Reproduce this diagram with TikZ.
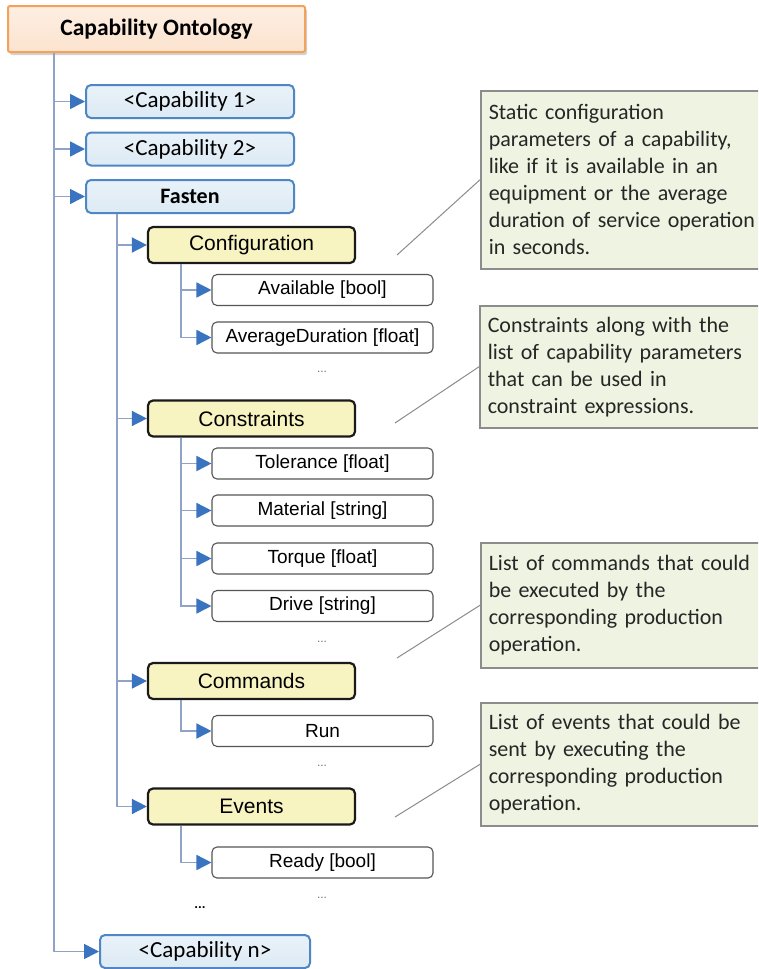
\documentclass[tikz,border=0pt]{standalone}
\usepackage{fontspec}
\setmainfont{Carlito}
\newfontfamily\arialfont{Liberation Sans}
\usetikzlibrary{arrows.meta,shadows}
\definecolor{rootfill}{HTML}{FCE3CE}
\definecolor{rootfilltop}{HTML}{FDEFE3}
\definecolor{rootline}{HTML}{F2A25A}
\definecolor{capfill}{HTML}{DDEAF4}
\definecolor{capfilltop}{HTML}{E9F2F9}
\definecolor{capline}{HTML}{4F86C6}
\definecolor{grpfill}{HTML}{F8F4C2}
\definecolor{grpline}{HTML}{1A1A1A}
\definecolor{itemline}{HTML}{555555}
\definecolor{notefill}{HTML}{EEF3E2}
\definecolor{noteline}{HTML}{8C8C8C}
\definecolor{connline}{HTML}{8EA3C6}
\definecolor{tipblue}{HTML}{3A74C0}
\begin{document}
\begin{tikzpicture}[x=1pt,y=-1pt,
  rootbox/.style={draw=rootline, line width=2pt, top color=rootfilltop, bottom color=rootfill,
    rounded corners=2pt, minimum width=297pt, minimum height=46pt, inner sep=0pt,
    font=\fontsize{23.5}{27}\selectfont\bfseries,
    drop shadow={shadow xshift=2pt, shadow yshift=-3pt, opacity=0.35}},
  capbox/.style={draw=capline, line width=2pt, top color=capfilltop, bottom color=capfill,
    rounded corners=5pt, minimum width=208pt, minimum height=33pt, inner sep=0pt,
    font=\fontsize{23}{26}\selectfont},
  grpbox/.style={draw=grpline, line width=2.2pt, fill=grpfill, rounded corners=5pt,
    minimum width=207pt, minimum height=36pt, inner sep=0pt,
    font=\arialfont\fontsize{21}{25}\selectfont},
  itembox/.style={draw=itemline, line width=1.1pt, fill=white, rounded corners=5pt,
    minimum width=221pt, minimum height=31pt, inner sep=0pt,
    font=\arialfont\fontsize{19}{23}\selectfont},
  notebox/.style={draw=noteline, line width=1.5pt, fill=notefill, anchor=north west,
    minimum width=290pt, text width=274pt, align=left, inner xsep=8pt, inner ysep=0pt,
    font=\fontsize{22}{27}\selectfont, text=black!85},
  conn/.style={draw=connline, line width=1.6pt,
    -{Triangle[length=15pt,width=15pt,color=tipblue]}},
  noteline/.style={draw=noteline, line width=1pt},
  moredots/.style={font=\arialfont\fontsize{12}{14}\selectfont, text=black!55, inner sep=0pt}
]
\clip (0,0) rectangle (758,969);
\fill[white] (0,0) rectangle (758,969);

% ontology root and capabilities
\node[rootbox] (root) at (156.5,29) {Capability Ontology};
\node[capbox] (cap1) at (190,101.5) {<Capability 1>};
\node[capbox] (cap2) at (190,149) {<Capability 2>};
\node[capbox, font=\fontsize{22}{26}\selectfont\bfseries] (fasten) at (190,196.5) {Fasten};
\node[capbox, minimum width=210pt] (capn) at (205,951.5) {<Capability n>};

% parameter groups of Fasten
\node[grpbox] (config) at (251.5,245) {Configuration};
\node[grpbox] (constr) at (251.5,418.5) {Constraints};
\node[grpbox] (cmds) at (251.5,681) {Commands};
\node[grpbox] (events) at (251.5,806.5) {Events};

% parameters
\node[itembox] (avail) at (322.5,290) {Available [bool]};
\node[itembox] (avgdur) at (322.5,337.5) {AverageDuration [float]};
\node[moredots] (d1) at (322,372) {...};
\node[itembox] (tol) at (322.5,463.5) {Tolerance [float]};
\node[itembox] (mat) at (322.5,510.5) {Material [string]};
\node[itembox] (torq) at (322.5,558.5) {Torque [float]};
\node[itembox] (drive) at (322.5,606) {Drive [string]};
\node[moredots] (d2) at (322,642) {...};
\node[itembox] (run) at (322.5,731) {Run};
\node[moredots] (d3) at (322,766) {...};
\node[itembox] (ready) at (322.5,862.5) {Ready [bool]};
\node[moredots] (d4) at (322,898) {...};
\node[font=\fontsize{14}{16}\selectfont\bfseries, inner sep=0pt] (d5) at (200,908) {...};

% tree connectors
\foreach \c in {cap1,cap2,fasten,capn}
  \draw[conn] ([xshift=47pt]root.south west) |- (\c.west);
\foreach \c in {config,constr,cmds,events}
  \draw[conn] ([xshift=32pt]fasten.south west) |- (\c.west);
\foreach \c in {avail,avgdur}
  \draw[conn] ([xshift=34pt]config.south west) |- (\c.west);
\foreach \c in {tol,mat,torq,drive}
  \draw[conn] ([xshift=34pt]constr.south west) |- (\c.west);
\draw[conn] ([xshift=34pt]cmds.south west) |- (run.west);
\draw[conn] ([xshift=34pt]events.south west) |- (ready.west);

% explanatory notes
\node[notebox, minimum height=178pt] (n1) at (480,90) {Static configuration\\parameters of a capability,\\like if it is available in an\\equipment or the average\\duration of service operation\\in seconds.};
\node[notebox, minimum height=122pt] (n2) at (479,305) {Constraints along with the\\list of capability parameters\\that can be used in\\constraint expressions.};
\node[notebox, minimum height=125pt] (n3) at (480,542) {List of commands that could\\be executed by the\\corresponding production\\operation.};
\node[notebox, minimum height=123pt] (n4) at (480,702) {List of events that could be\\sent by executing the\\corresponding production\\operation.};

\coordinate (p1) at (397,255);
\coordinate (p2) at (395,423);
\coordinate (p3) at (397,658);
\coordinate (p4) at (395,817);
\draw[noteline] (p1) -- (n1.west);
\draw[noteline] (p2) -- (n2.west);
\draw[noteline] (p3) -- (n3.west);
\draw[noteline] (p4) -- (n4.west);
\end{tikzpicture}
\end{document}
